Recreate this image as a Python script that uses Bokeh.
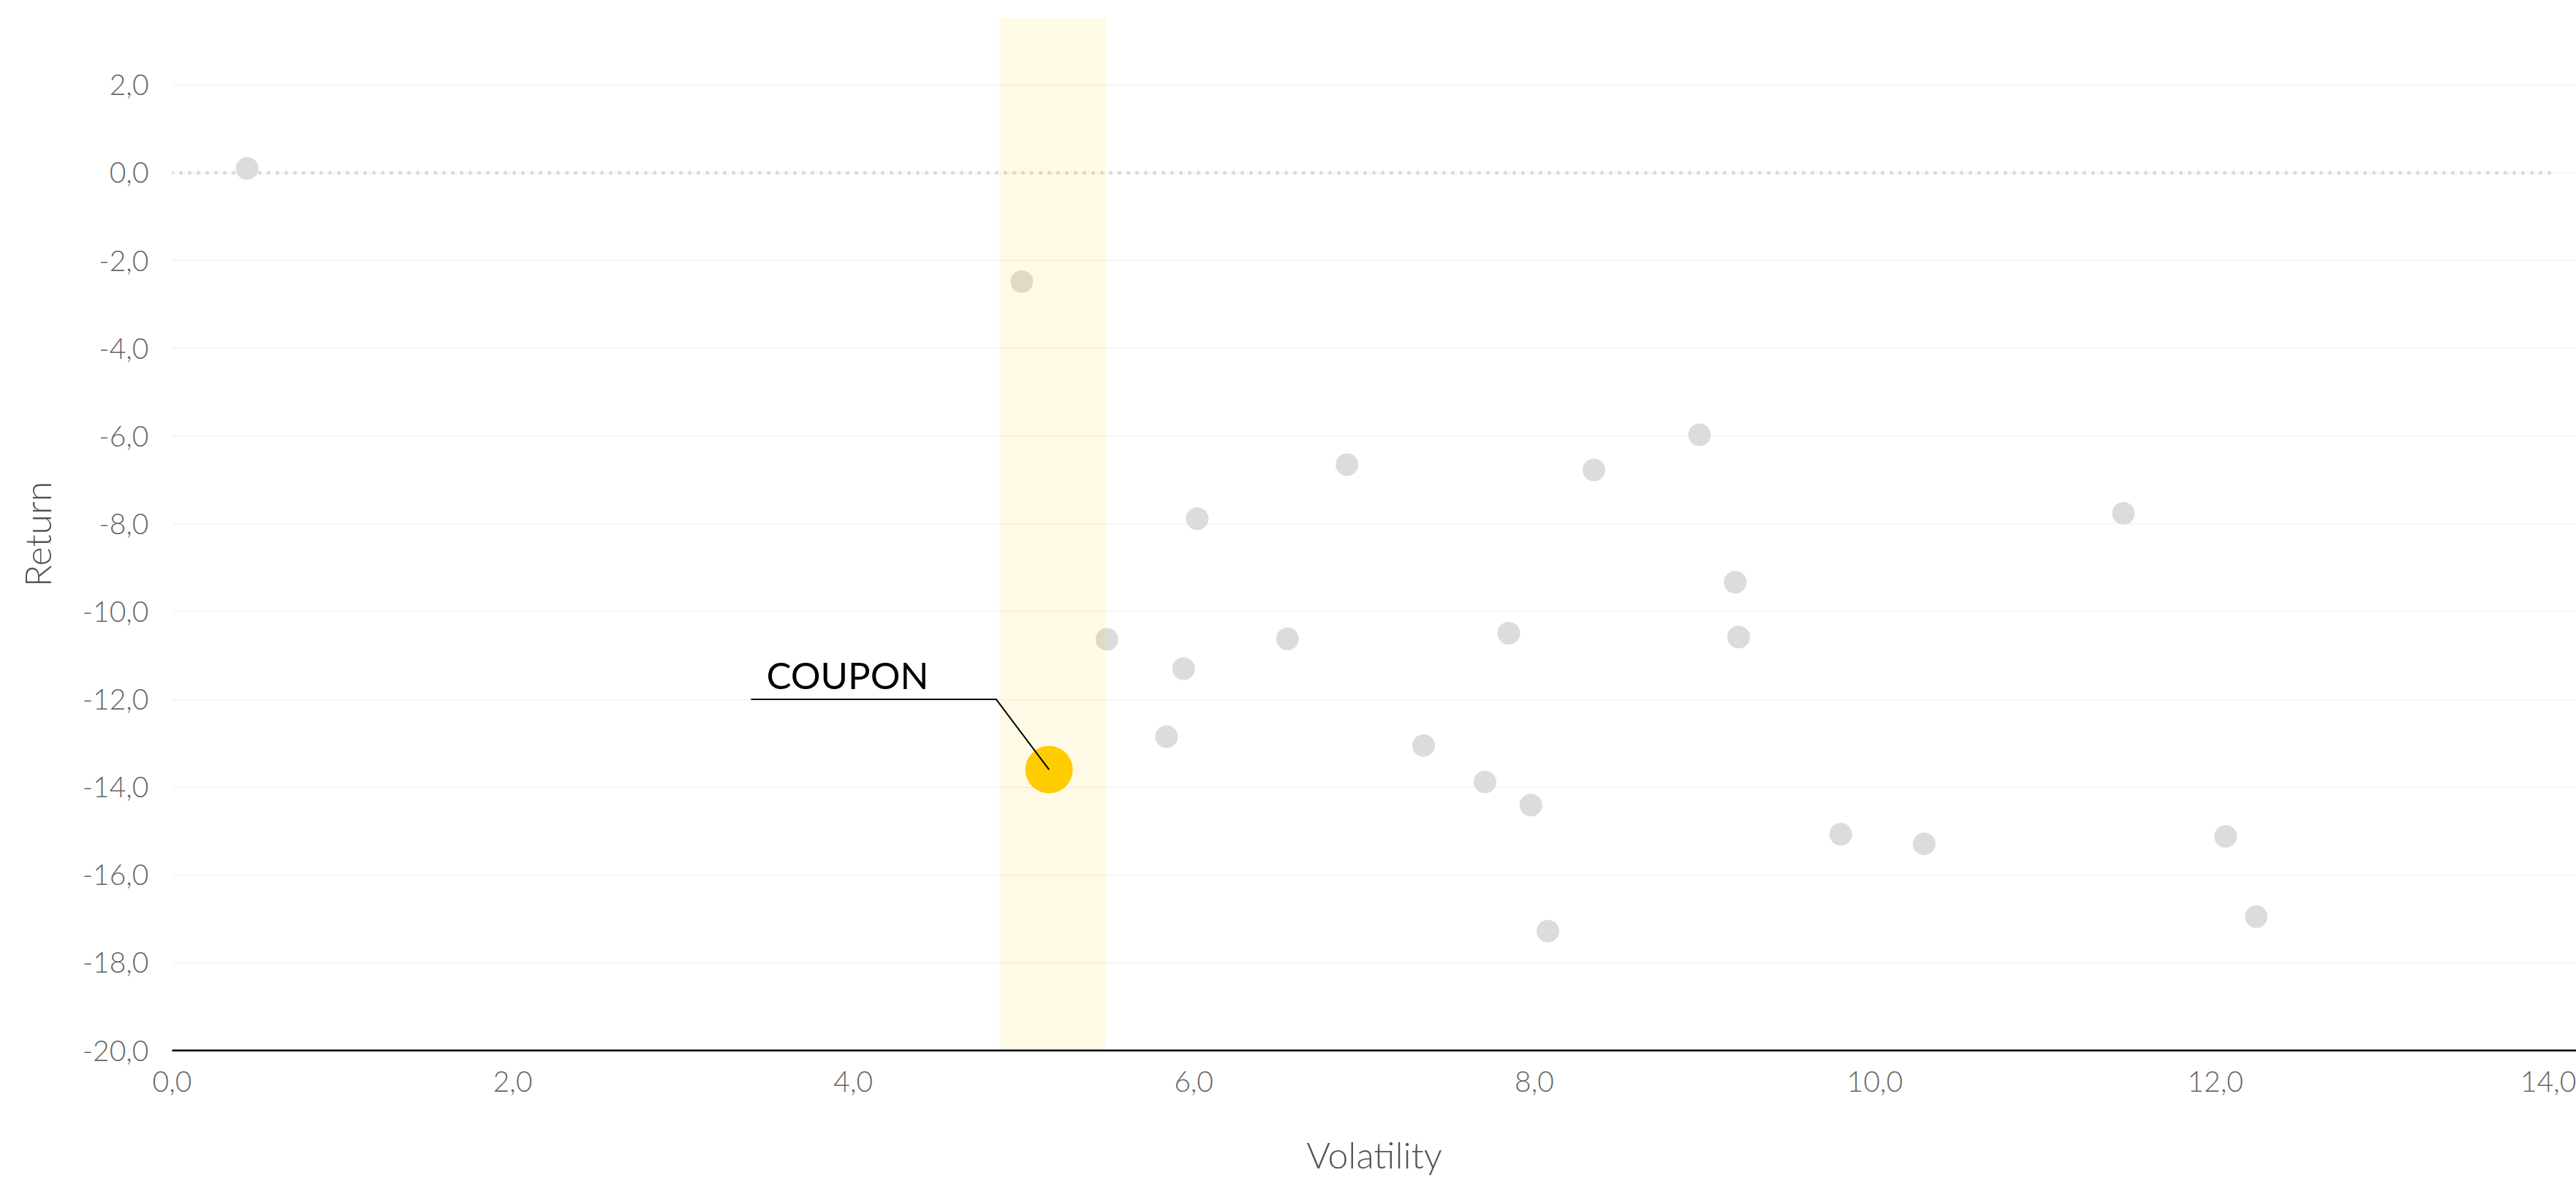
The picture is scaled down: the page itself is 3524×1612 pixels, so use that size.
from bokeh.plotting import figure
from bokeh.models import FixedTicker, Range1d, ColumnDataSource, Label
from bokeh.embed import file_html
from bokeh.resources import INLINE

# ---- data ----
volatility = [0.44, 4.99, 5.49, 5.84, 5.94, 6.02, 6.55, 6.90, 7.35, 7.71, 7.85,
              7.98, 8.08, 8.35, 8.97, 9.18, 9.20, 9.80, 10.29, 11.46, 12.06, 12.24]
returns = [0.10, -2.48, -10.63, -12.85, -11.30, -7.88, -10.62, -6.65, -13.05, -13.88, -10.49,
           -14.41, -17.28, -6.77, -5.97, -9.33, -10.58, -15.07, -15.29, -7.76, -15.12, -16.95]

coupon_name = "COUPON"
coupon_vol = [5.15]
coupon_ret = [-13.6]

band_low = 4.86
band_high = 5.48

x_ticks = [0, 2, 4, 6, 8, 10, 12, 14]
x_labels = ["0,0", "2,0", "4,0", "6,0", "8,0", "10,0", "12,0", "14,0"]
y_ticks = [-20, -18, -16, -14, -12, -10, -8, -6, -4, -2, 0, 2]
y_labels = ["-20,0", "-18,0", "-16,0", "-14,0", "-12,0", "-10,0", "-8,0", "-6,0",
            "-4,0", "-2,0", "0,0", "2,0"]

x_title = "Volatility"
y_title = "Return"

x_min, x_max = 0, 14.12
y_min, y_max = -20, 3.53

FONT = "Lato Light"

p = figure(width=3524, height=1612, output_backend="svg", toolbar_location=None,
           x_range=Range1d(x_min, x_max), y_range=Range1d(y_min, y_max),
           min_border_left=235, min_border_right=0, min_border_top=24, min_border_bottom=175)
p.outline_line_color = None
p.background_fill_color = "white"
p.border_fill_color = "white"

# axes
p.xaxis.ticker = FixedTicker(ticks=x_ticks)
p.xaxis.major_label_overrides = {t: l for t, l in zip(x_ticks, x_labels)}
p.yaxis.ticker = FixedTicker(ticks=y_ticks)
p.yaxis.major_label_overrides = {t: l for t, l in zip(y_ticks, y_labels)}

for ax in (p.xaxis[0], p.yaxis[0]):
    ax.major_tick_line_color = None
    ax.minor_tick_line_color = None
    ax.major_tick_out = 0
    ax.major_tick_in = 0
    ax.major_label_text_font = FONT
    ax.major_label_text_font_size = "39px"
    ax.major_label_text_color = "#666666"
    ax.axis_label_text_font = FONT
    ax.axis_label_text_font_size = "50px"
    ax.axis_label_text_font_style = "normal"
    ax.axis_label_text_color = "#555555"

p.xaxis.axis_label = x_title
p.xaxis.axis_line_color = "black"
p.xaxis.axis_line_width = 2.5
p.xaxis.major_label_standoff = 28
p.xaxis.axis_label_standoff = 53

p.yaxis.axis_label = y_title
p.yaxis.axis_line_color = None
p.yaxis.major_label_standoff = 32
p.yaxis.axis_label_standoff = 29

p.xgrid.grid_line_color = None
p.ygrid.ticker = FixedTicker(ticks=y_ticks)
p.ygrid.grid_line_color = "#f2f2f2"
p.ygrid.grid_line_width = 1.5

# zero line (dotted)
p.segment(x0=[x_ticks[0]], x1=[x_ticks[-1]], y0=[0], y1=[0],
          line_color="#d9d9d9", line_width=5, line_dash="0 12", line_cap="round")

# peer points
src = ColumnDataSource(dict(x=volatility, y=returns))
p.scatter("x", "y", source=src, size=31, fill_color="#dcdcdc", line_color=None)

# highlighted band
p.quad(left=[band_low], right=[band_high], bottom=[y_min], top=[y_max],
       fill_color="#ffcc00", fill_alpha=0.1, line_color=None)

# coupon point
p.scatter(coupon_vol, coupon_ret, size=65, fill_color="#ffcc00", line_color=None)

# annotation leader line
line_y = coupon_ret[0] + 1.6
p.line([coupon_vol[0] - 1.75, coupon_vol[0] - 0.31, coupon_vol[0]],
       [line_y, line_y, coupon_ret[0]], line_color="black", line_width=2)
p.add_layout(Label(x=coupon_vol[0] - 1.66, y=line_y + 0.05, text=coupon_name,
                   text_font="Lato", text_font_size="51px", text_color="black",
                   text_baseline="bottom"))

open("out.html", "w").write(file_html(p, INLINE))
